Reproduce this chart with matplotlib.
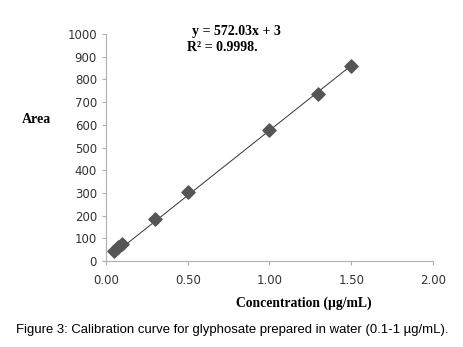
import matplotlib
matplotlib.use("Agg")
import matplotlib.pyplot as plt
import numpy as np

# calibration data
conc = [0.05, 0.075, 0.10, 0.30, 0.50, 1.00, 1.30, 1.50]
area = [45, 60, 75, 185, 302, 575, 735, 860]
slope = 572.03
intercept = 3
xticks = [0.0, 0.5, 1.0, 1.5, 2.0]
yticks = [0, 100, 200, 300, 400, 500, 600, 700, 800, 900, 1000]

fig = plt.figure(figsize=(4.64, 3.47), dpi=100)
ax = fig.add_axes([0.2284, 0.2478, 0.7046, 0.6542])

xfit = np.array([min(conc) - 0.01, max(conc) + 0.02])
ax.plot(xfit, slope * xfit + intercept, color="#333333", lw=0.7, zorder=2)
ax.scatter(conc, area, marker="D", s=45, color="#555555", zorder=3)

ax.set_xlim(0, 2)
ax.set_ylim(0, 1000)
ax.set_xticks(xticks)
ax.set_xticklabels(["%.2f" % t for t in xticks])
ax.set_yticks(yticks)

for s in ["top", "right"]:
    ax.spines[s].set_visible(False)
for s in ["left", "bottom"]:
    ax.spines[s].set_color("#b0b0b0")
    ax.spines[s].set_linewidth(0.8)
ax.tick_params(colors="#b0b0b0", labelcolor="#333333", labelsize=8.5,
               length=3, width=0.8)
ax.tick_params(axis="x", pad=6)

serif = "Liberation Serif"
fig.text(0.078, 0.655, "Area", family=serif, weight="bold", fontsize=10,
         ha="center", va="center")
fig.text(0.655, 0.127, "Concentration (\u00b5g/mL)", family=serif,
         weight="bold", fontsize=9.8, ha="center", va="center")
fig.text(0.51, 0.908, "y = 572.03x + 3", family=serif, weight="bold",
         fontsize=10, ha="center", va="center")
fig.text(0.403, 0.862, "R\u00b2 = 0.9998.", family=serif, weight="bold",
         fontsize=10, ha="left", va="center")
fig.text(0.035, 0.048, "Figure 3: Calibration curve for glyphosate prepared in water (0.1-1 \u00b5g/mL).",
         family="Liberation Sans", fontsize=9.45, ha="left", va="center")

fig.savefig("out.png", dpi=100)
